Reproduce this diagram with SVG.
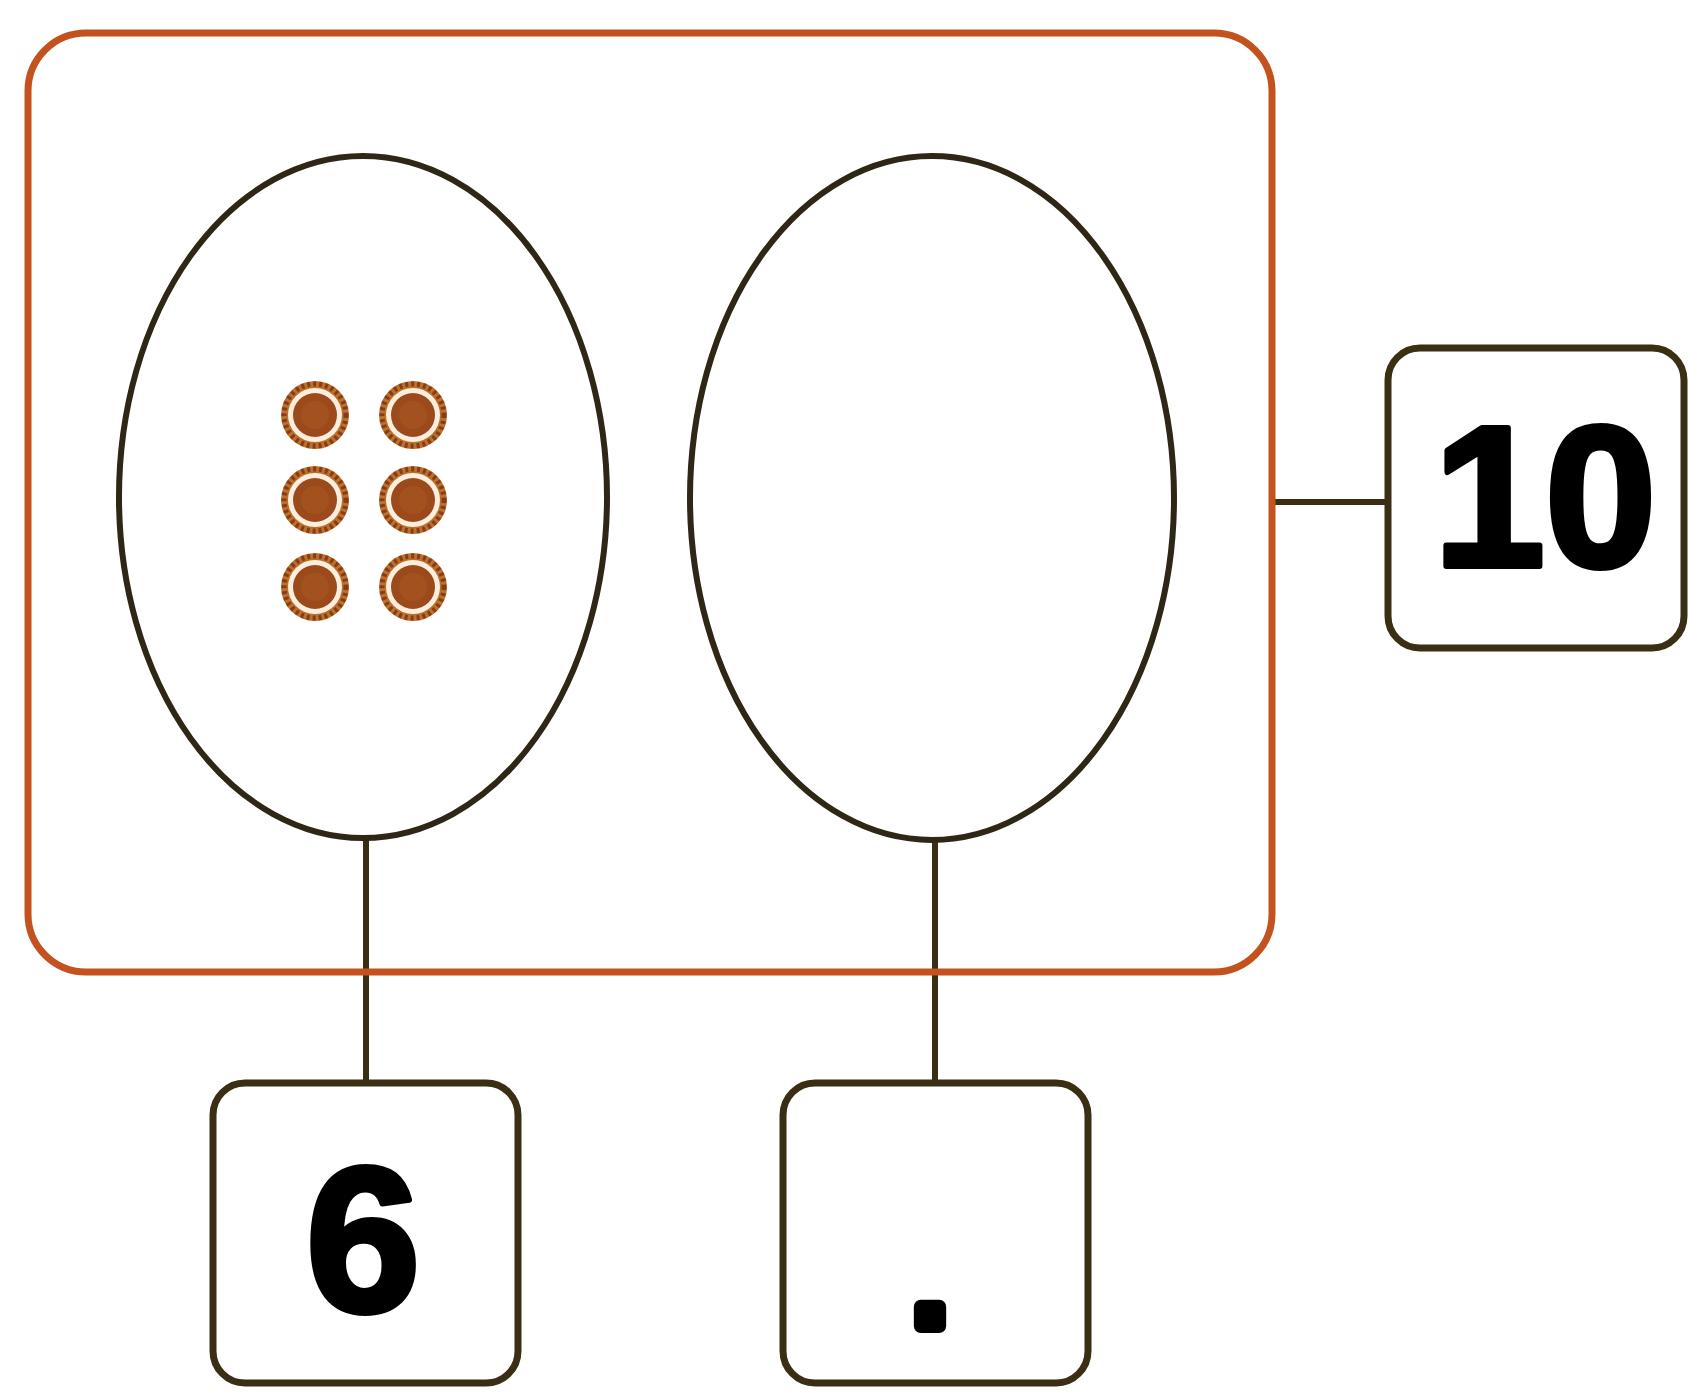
<svg xmlns="http://www.w3.org/2000/svg" width="1689" height="1394" viewBox="0 0 1689 1394">
<style>
.frame{fill:none;stroke:#c4521f;stroke-width:7}
.oval{fill:#ffffff;stroke:#2e2716;stroke-width:6}
.box{fill:#ffffff;stroke:#3a2f14;stroke-width:7}
.link{fill:none;stroke:#3a2f14;stroke-width:6}
.num{font-family:"Liberation Sans",Arial,sans-serif;font-weight:bold;fill:#000;stroke:#000;stroke-width:6;stroke-linejoin:round;text-anchor:middle}
.dot{font-family:"Liberation Sans",Arial,sans-serif;font-weight:bold;fill:#000;stroke:#000;stroke-width:14;stroke-linejoin:round;text-anchor:middle}
</style>
<defs>
<g id="counter">
<circle r="34" fill="#b8722a"/>
<circle r="31" fill="none" stroke="#8a3a1a" stroke-width="5" stroke-dasharray="3 3"/>
<circle r="27" fill="#fbeede"/>
<circle r="22" fill="#9c4a1c"/>
<circle r="14" fill="#a85422" opacity="0.7"/>
</g>
</defs>
<rect width="1689" height="1394" fill="#ffffff"/>
<g id="connectors">
<line class="link" x1="366" y1="838" x2="366" y2="1083"/>
<line class="link" x1="935" y1="840" x2="935" y2="1083"/>
<line class="link" x1="1275" y1="502" x2="1388" y2="502"/>
</g>
<g id="whole">
<rect class="frame" x="28" y="33" width="1244" height="939" rx="58" ry="58"/>
</g>
<g id="part-left">
<ellipse class="oval" cx="363" cy="497" rx="244" ry="341"/>
<use href="#counter" x="315" y="415"/>
<use href="#counter" x="413" y="415"/>
<use href="#counter" x="315" y="500"/>
<use href="#counter" x="413" y="500"/>
<use href="#counter" x="315" y="587"/>
<use href="#counter" x="413" y="587"/>
</g>
<g id="part-right">
<ellipse class="oval" cx="932" cy="498" rx="242" ry="342"/>
</g>
<g id="box-ten">
<rect class="box" x="1388" y="348" width="296" height="300" rx="32" ry="32"/>
<text class="num" x="1545" y="566" font-size="200">10</text>
</g>
<g id="box-six">
<rect class="box" x="213" y="1083" width="305" height="300" rx="32" ry="32"/>
<text class="num" x="363" y="1311" font-size="206">6</text>
</g>
<g id="box-blank">
<rect class="box" x="783" y="1083" width="305" height="300" rx="32" ry="32"/>
<text class="dot" x="930" y="1326" font-size="130">.</text>
</g>
</svg>
